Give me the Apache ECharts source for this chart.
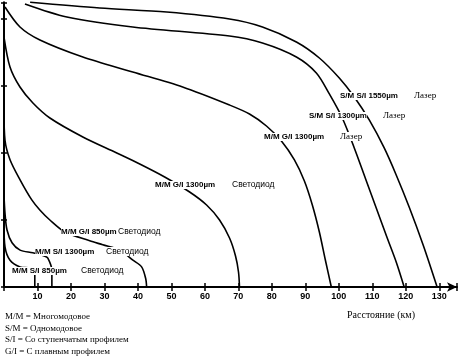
<!DOCTYPE html>
<html><head><meta charset="utf-8">
<script src="https://cdn.jsdelivr.net/npm/echarts@6/dist/echarts.min.js"></script>
<style>html,body{margin:0;padding:0;background:#fff}#c{width:460px;height:361px}</style>
</head><body><div id="c"></div>
<script>
// Distance (km) on x, relative level on y (unlabelled axis units)
const xTicks = [10,20,30,40,50,60,70,80,90,100,110,120,130];
const smSi1550 = [[7.8,4.25],[28.6,4.164],[48.6,4.104],[67.36,4.0],[77.2,3.881],[87.33,3.657],[94.19,3.418],[100.15,3.119],[104.62,2.836],[109.09,2.493],[113.56,2.075],[117.14,1.672],[121.01,1.194],[125.19,0.627],[129.36,0]];
const smSi1300 = [[6.26,4.224],[18.78,4.03],[38.45,3.881],[67.36,3.746],[77.2,3.642],[87.33,3.433],[93.29,3.194],[97.17,2.881],[101.04,2.522],[104.62,2.075],[107.9,1.627],[111.18,1.179],[114.46,0.731],[117.14,0.373],[119.52,0]];
const mmGi1300L = [[0.3,4.179],[4.77,3.881],[10.73,3.687],[23.55,3.433],[38.45,3.209],[53.35,2.985],[67.36,2.716],[73.32,2.582],[78.39,2.403],[82.86,2.179],[86.74,1.896],[89.72,1.582],[92.09,1.224],[94.19,0.821],[95.98,0.403],[97.76,0]];
const mmGi1300D = [[0,3.731],[1.79,3.284],[4.77,2.985],[8.64,2.746],[13.71,2.522],[23.55,2.239],[33.68,2.0],[40.54,1.836],[47.99,1.642],[55.44,1.418],[60.51,1.224],[64.38,1.0],[67.36,0.731],[69.15,0.463],[70.04,0.224],[70.34,0]];
const mmGi850D = [[0,2.64],[0.3,2.19],[1.8,1.90],[4.8,1.60],[8.3,1.30],[10.7,1.15],[13.7,1.00],[18.2,0.82],[25.6,0.69],[29.5,0.63],[34.6,0.55],[38.5,0.40],[41.1,0.30],[42.3,0.13],[42.6,0]];
const mmSi1300D = [[0,1.37],[0.3,1.10],[0.9,0.85],[2.4,0.66],[4.8,0.55],[8.6,0.51],[12.2,0.46],[13.1,0.43],[14.3,0.25],[14.3,0]];
const mmSi850D = [[0,0.93],[0.3,0.60],[1.8,0.40],[4.8,0.30],[7.8,0.28],[9.2,0.22],[9.2,0]];
const curveNames = ['S/M S/I 1550µm Лазер','S/M S/I 1300µm Лазер','M/M G/I 1300µm Лазер','M/M G/I 1300µm Светодиод','M/M G/I 850µm Светодиод','M/M S/I 1300µm Светодиод','M/M S/I 850µm Светодиод'];
const curves = [smSi1550, smSi1300, mmGi1300L, mmGi1300D, mmGi850D, mmSi1300D, mmSi850D];
const footnotes = ['M/M = Многомодовое','S/M = Одномодовое','S/I = Со ступенчатым профилем','G/I = С плавным профилем'];
const xName = 'Расстояние (км)';

const chart = echarts.init(document.getElementById('c'), null, {renderer:'canvas'});
const XMAX = 135.3, YMAX = 4.25;
const sans = 'Liberation Sans', serif = 'Liberation Serif';
function lbl(x, y, main, tail, tx) {
  return [
    {type:'text', left:x, top:y, z:50, style:{text:main, font:'bold 8px "'+sans+'"', fill:'#000', backgroundColor:'#fff'}},
    {type:'text', left:tx, top:y-1, z:50, style:{text:tail, font:(tail==='Лазер'?'9px "'+serif+'"':'8.5px "'+sans+'"'), fill:'#000', backgroundColor:'#fff'}}
  ];
}
const g = [];
g.push(...lbl(340, 92, 'S/M S/I 1550µm', 'Лазер', 414));
g.push(...lbl(309, 112, 'S/M S/I 1300µm', 'Лазер', 383));
g.push(...lbl(264, 133, 'M/M G/I 1300µm', 'Лазер', 340));
g.push(...lbl(155, 181, 'M/M G/I 1300µm', 'Светодиод', 232));
g.push(...lbl(61, 228, 'M/M G/I 850µm', 'Светодиод', 118));
g.push(...lbl(35, 248, 'M/M S/I 1300µm', 'Светодиод', 106));
g.push(...lbl(12, 267, 'M/M S/I 850µm', 'Светодиод', 81));
g.push({type:'text', left:347, top:310, style:{text:xName, font:'10px "'+serif+'"', fill:'#000'}});
footnotes.forEach((t,i)=>g.push({type:'text', left:5, top:312+i*11.7, style:{text:t, font:'9px "'+serif+'"', fill:'#000'}}));

const xBase = {type:'value', min:0, max:XMAX, interval:10, splitLine:{show:false}, gridIndex:0};
const yBase = {type:'value', min:0, max:YMAX, interval:1, splitLine:{show:false}, gridIndex:0};
chart.setOption({
  animation:false,
  grid:{left:4, right:2, top:2.25, bottom:74},
  xAxis:[
    Object.assign({}, xBase, {position:'bottom',
      axisLine:{show:true, lineStyle:{color:'#000', width:2}, symbol:['none','arrow'], symbolSize:[7,10]},
      axisTick:{show:true, length:4, lineStyle:{color:'#000', width:1.5}},
      axisLabel:{show:true, margin:5, color:'#000', fontSize:9, fontWeight:'bold', fontFamily:sans,
        formatter:v => xTicks.indexOf(Math.round(v))>=0 && Math.abs(v-Math.round(v))<1e-6 ? String(Math.round(v)) : ''}}),
    Object.assign({}, xBase, {position:'bottom',
      axisLine:{show:false}, axisTick:{show:true, inside:true, length:4, lineStyle:{color:'#000', width:1.5}},
      axisLabel:{show:false}})
  ],
  yAxis:[
    Object.assign({}, yBase, {position:'left',
      axisLine:{show:true, lineStyle:{color:'#000', width:2}},
      axisTick:{show:true, length:3, lineStyle:{color:'#000', width:1.5}},
      axisLabel:{show:false}}),
    Object.assign({}, yBase, {position:'left',
      axisLine:{show:false}, axisTick:{show:true, inside:true, length:3, lineStyle:{color:'#000', width:1.5}},
      axisLabel:{show:false}})
  ],
  series: curves.map((d,i)=>({type:'line', name:curveNames[i], data:d, xAxisIndex:0, yAxisIndex:0,
    showSymbol:false, smooth:0.3, clip:false, lineStyle:{color:'#000', width:1.6}, z:3})),
  graphic: g
});
</script></body></html>
